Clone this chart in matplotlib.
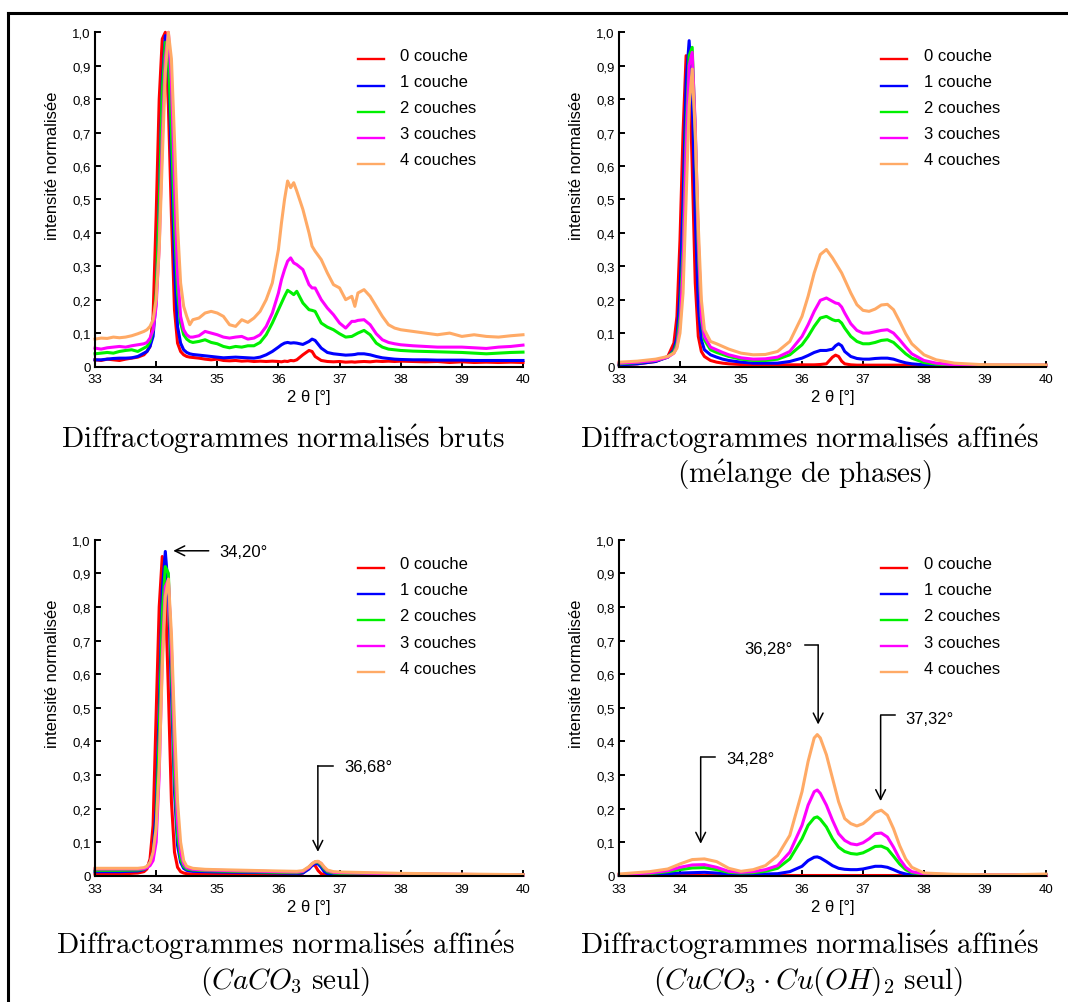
import matplotlib
matplotlib.use('Agg')
import matplotlib.pyplot as plt
from matplotlib.lines import Line2D
from matplotlib.legend_handler import HandlerLine2D

plt.rcParams['font.family'] = ['Liberation Sans', 'DejaVu Sans']
plt.rcParams['mathtext.fontset'] = 'cm'

# ---------------------------------------------------------------- data
layer_labels = ['0 couche', '1 couche', '2 couches', '3 couches', '4 couches']
layer_colors = ['#FF0000', '#0000FF', '#00F000', '#FF00FF', '#FFAA66']

x_ticks = [33, 34, 35, 36, 37, 38, 39, 40]
y_ticks = [0.0, 0.1, 0.2, 0.3, 0.4, 0.5, 0.6, 0.7, 0.8, 0.9, 1.0]
y_tick_labels = ['0', '0,1', '0,2', '0,3', '0,4', '0,5', '0,6', '0,7', '0,8', '0,9', '1,0']

# panel 1 : raw normalised diffractograms
raw_x = [33.0, 33.1, 33.2, 33.3, 33.4, 33.5, 33.6, 33.7, 33.8, 33.85,
         33.9, 33.95, 34.0, 34.05, 34.1, 34.15, 34.2, 34.25, 34.3, 34.35,
         34.4, 34.45, 34.5, 34.55, 34.6, 34.7, 34.8, 34.9, 35.0, 35.1,
         35.2, 35.3, 35.4, 35.5, 35.6, 35.7, 35.8, 35.9, 36.0, 36.05,
         36.1, 36.15, 36.2, 36.25, 36.3, 36.4, 36.5, 36.55, 36.6, 36.7,
         36.8, 36.9, 37.0, 37.1, 37.2, 37.25, 37.3, 37.4, 37.5, 37.6,
         37.7, 37.8, 37.9, 38.0, 38.2, 38.4, 38.6, 38.8, 39.0, 39.2,
         39.4, 39.6, 39.8, 40.0]
raw_0 = [.020, .018, .022, .020, .018, .022, .025, .028, .035, .045,
         .06, .15, .45, .80, .98, 1.0, .78, .45, .17, .07,
         .045, .035, .03, .028, .027, .025, .022, .020, .022, .018,
         .017, .018, .016, .017, .015, .016, .015, .016, .015, .014,
         .016, .015, .018, .017, .020, .035, .048, .045, .030, .018,
         .015, .014, .015, .013, .014, .013, .014, .015, .014, .016,
         .015, .016, .015, .016, .015, .014, .015, .012, .014, .012,
         .013, .012, .013, .012]
raw_1 = [.020, .020, .022, .024, .025, .025, .026, .030, .040, .045,
         .06, .09, .20, .50, .85, .99, .92, .62, .30, .12,
         .07, .05, .042, .038, .036, .034, .032, .030, .028, .026,
         .027, .028, .027, .026, .025, .028, .035, .045, .058, .065,
         .070, .072, .070, .071, .070, .066, .075, .082, .078, .055,
         .042, .038, .036, .034, .035, .036, .038, .038, .035, .030,
         .026, .024, .022, .021, .020, .020, .019, .019, .019, .018,
         .018, .018, .018, .018]
raw_2 = [.038, .040, .042, .040, .045, .048, .050, .045, .055, .060,
         .075, .11, .22, .48, .82, .97, .93, .70, .42, .22,
         .13, .095, .082, .075, .072, .075, .080, .072, .068, .060,
         .056, .060, .058, .062, .062, .072, .095, .13, .17, .19,
         .21, .228, .222, .215, .225, .19, .17, .168, .165, .13,
         .118, .11, .098, .088, .09, .095, .10, .108, .095, .07,
         .058, .052, .050, .048, .046, .045, .044, .043, .042, .040,
         .038, .040, .042, .043]
raw_3 = [.055, .052, .056, .058, .060, .058, .062, .065, .068, .072,
         .085, .11, .18, .36, .68, .92, 1.0, .85, .55, .28,
         .15, .11, .095, .088, .088, .092, .105, .10, .095, .088,
         .085, .088, .090, .082, .085, .095, .12, .16, .22, .26,
         .29, .315, .325, .31, .305, .29, .245, .235, .235, .20,
         .175, .155, .13, .115, .135, .135, .138, .14, .125, .098,
         .08, .072, .068, .065, .062, .060, .058, .058, .058, .056,
         .054, .058, .060, .064]
raw_4 = [.082, .085, .084, .088, .086, .088, .092, .098, .105, .11,
         .12, .14, .20, .35, .62, .88, 1.0, .92, .68, .42,
         .25, .18, .15, .125, .14, .145, .16, .165, .16, .15,
         .125, .12, .14, .132, .145, .165, .20, .25, .35, .43,
         .50, .555, .535, .55, .525, .47, .40, .36, .345, .32,
         .28, .245, .235, .20, .21, .18, .22, .23, .21, .18,
         .15, .125, .115, .11, .105, .10, .095, .10, .09, .095,
         .09, .088, .092, .095]

# panel 2 : refined, phase mixture
mix_x = [33.0, 33.3, 33.6, 33.8, 33.9, 33.95, 34.0, 34.05, 34.1, 34.15,
         34.2, 34.25, 34.3, 34.35, 34.4, 34.5, 34.6, 34.7, 34.8, 35.0,
         35.2, 35.4, 35.6, 35.8, 36.0, 36.1, 36.2, 36.3, 36.4, 36.5,
         36.55, 36.6, 36.65, 36.7, 36.8, 36.9, 37.0, 37.1, 37.2, 37.3,
         37.4, 37.5, 37.6, 37.7, 37.8, 38.0, 38.2, 38.5, 39.0, 39.5,
         40.0]
mix_0 = [.005, .008, .015, .03, .07, .15, .38, .70, .93, .92,
         .60, .25, .09, .045, .03, .018, .013, .010, .008, .006,
         .005, .005, .005, .005, .005, .005, .005, .006, .008, .028,
         .034, .030, .016, .008, .005, .004, .004, .004, .004, .004,
         .004, .004, .004, .004, .004, .004, .004, .004, .004, .004,
         .004]
mix_1 = [.005, .008, .015, .028, .05, .09, .22, .50, .85, .975,
         .80, .45, .18, .08, .05, .035, .028, .022, .018, .013,
         .010, .010, .010, .015, .025, .033, .042, .048, .048, .052,
         .062, .068, .062, .045, .030, .024, .022, .022, .024, .025,
         .025, .022, .016, .011, .008, .005, .004, .003, .003, .003,
         .003]
mix_2 = [.008, .012, .018, .028, .045, .07, .15, .35, .70, .93,
         .955, .70, .35, .14, .08, .05, .042, .036, .030, .022,
         .018, .018, .022, .035, .065, .09, .12, .145, .15, .14,
         .137, .138, .13, .115, .09, .075, .068, .068, .072, .078,
         .08, .072, .055, .038, .025, .012, .007, .004, .003, .003,
         .003]
mix_3 = [.010, .013, .018, .028, .04, .06, .12, .30, .65, .90,
         .94, .72, .38, .15, .09, .058, .050, .042, .035, .026,
         .022, .023, .028, .045, .09, .125, .165, .198, .205, .195,
         .19, .188, .178, .16, .128, .108, .10, .10, .104, .108,
         .11, .10, .08, .058, .038, .018, .010, .005, .003, .003,
         .003]
mix_4 = [.013, .016, .022, .030, .04, .055, .10, .22, .50, .78,
         .89, .70, .42, .20, .11, .075, .068, .060, .052, .040,
         .035, .036, .045, .075, .15, .21, .28, .335, .35, .325,
         .31, .295, .28, .26, .22, .185, .168, .165, .172, .184,
         .186, .17, .135, .098, .068, .035, .020, .010, .005, .004,
         .004]

# panel 3 : refined, CaCO3 only
ca_x = [33.0, 33.4, 33.7, 33.8, 33.85, 33.9, 33.95, 34.0, 34.05, 34.1,
        34.15, 34.2, 34.25, 34.3, 34.35, 34.4, 34.45, 34.5, 34.6, 34.8,
        35.0, 35.5, 36.0, 36.3, 36.4, 36.5, 36.55, 36.6, 36.65, 36.7,
        36.75, 36.8, 36.9, 37.0, 37.5, 38.0, 38.5, 39.0, 39.5, 40.0]
ca_0 = [.005, .005, .008, .012, .02, .05, .15, .48, .80, .95,
        .85, .55, .22, .07, .025, .012, .008, .006, .005, .004,
        .004, .003, .003, .003, .008, .025, .034, .030, .015, .006,
        .003, .003, .003, .003, .003, .003, .003, .003, .002, .002]
ca_1 = [.012, .012, .014, .018, .025, .04, .07, .20, .50, .85,
        .965, .85, .55, .25, .09, .04, .022, .016, .013, .012,
        .011, .010, .008, .007, .008, .020, .030, .036, .035, .025,
        .012, .006, .004, .004, .003, .003, .003, .002, .002, .002]
ca_2 = [.016, .016, .017, .020, .025, .035, .06, .15, .42, .78,
        .92, .90, .62, .30, .12, .05, .028, .020, .017, .015,
        .014, .012, .010, .009, .012, .025, .035, .040, .040, .032,
        .020, .012, .008, .007, .006, .005, .004, .003, .002, .002]
ca_3 = [.020, .020, .020, .021, .024, .03, .045, .10, .30, .65,
        .86, .88, .68, .38, .16, .07, .035, .024, .019, .017,
        .016, .014, .012, .011, .013, .025, .035, .041, .042, .036,
        .024, .015, .010, .009, .007, .006, .005, .004, .003, .002]
ca_4 = [.022, .022, .022, .024, .028, .04, .07, .14, .32, .62,
        .83, .883, .72, .45, .22, .10, .045, .028, .022, .019,
        .018, .016, .014, .013, .015, .027, .036, .042, .043, .037,
        .026, .017, .012, .011, .009, .007, .006, .005, .004, .003]

# panel 4 : refined, CuCO3.Cu(OH)2 only
cu_x = [33.0, 33.5, 33.8, 34.0, 34.2, 34.4, 34.6, 34.8, 35.0, 35.2,
        35.4, 35.6, 35.8, 36.0, 36.1, 36.2, 36.25, 36.3, 36.4, 36.5,
        36.6, 36.7, 36.8, 36.9, 37.0, 37.1, 37.2, 37.3, 37.4, 37.5,
        37.6, 37.7, 37.8, 38.0, 38.5, 39.0, 39.5, 40.0]
cu_0 = [.003, .003, .003, .003, .003, .003, .003, .003, .003, .003,
        .003, .003, .003, .003, .003, .003, .003, .003, .003, .003,
        .003, .003, .003, .003, .003, .003, .003, .003, .003, .003,
        .003, .003, .003, .003, .003, .003, .003, .003]
cu_1 = [.002, .004, .006, .008, .009, .010, .008, .005, .004, .004,
        .005, .006, .012, .028, .045, .055, .056, .053, .042, .030,
        .022, .019, .018, .018, .020, .024, .028, .028, .025, .018,
        .010, .005, .003, .002, .002, .002, .002, .002]
cu_2 = [.002, .006, .012, .018, .023, .024, .018, .010, .008, .009,
        .013, .022, .050, .11, .15, .172, .175, .168, .145, .11,
        .085, .072, .066, .064, .068, .077, .087, .088, .080, .058,
        .035, .018, .009, .004, .003, .003, .003, .003]
cu_3 = [.003, .008, .015, .025, .032, .033, .025, .013, .010, .012,
        .018, .030, .070, .15, .21, .25, .255, .245, .21, .165,
        .125, .105, .095, .092, .098, .11, .125, .127, .115, .085,
        .050, .025, .012, .005, .003, .003, .003, .003]
cu_4 = [.005, .012, .020, .035, .048, .050, .042, .022, .013, .018,
        .030, .060, .12, .25, .34, .41, .42, .41, .36, .29,
        .22, .17, .155, .148, .155, .17, .188, .195, .18, .14,
        .090, .050, .025, .008, .004, .003, .003, .005]


# ---------------------------------------------------------------- drawing
class LowLineHandler(HandlerLine2D):
    """Legend line sitting a little below the text centre, as in the original."""

    def create_artists(self, legend, orig_handle, xdescent, ydescent,
                       width, height, fontsize, trans):
        artists = super().create_artists(legend, orig_handle, xdescent, ydescent,
                                         width, height, fontsize, trans)
        for a in artists:
            a.set_ydata([y - 0.33 * fontsize for y in a.get_ydata()])
        return artists


def draw_panel(ax, x, series, legend_top):
    lines = []
    for y, color, label in zip(series, layer_colors, layer_labels):
        ln, = ax.plot(x, y, color=color, lw=2.2, label=label, clip_on=False,
                      solid_joinstyle='round')
        lines.append(ln)
    ax.set_xlim(33, 40)
    ax.set_ylim(0, 1.0)
    ax.set_xticks(x_ticks)
    ax.set_xticklabels([str(t) for t in x_ticks])
    ax.set_yticks(y_ticks)
    ax.set_yticklabels(y_tick_labels)
    ax.tick_params(direction='in', length=4, width=1.4, labelsize=9.5)
    ax.tick_params(axis='x', pad=5)
    ax.tick_params(axis='y', pad=3)
    for side in ['top', 'right']:
        ax.spines[side].set_visible(False)
    for side in ['left', 'bottom']:
        ax.spines[side].set_linewidth(1.5)
    ax.set_xlabel('2 θ [°]', fontsize=12, va='center')
    ax.xaxis.set_label_coords(0.5, -0.091)
    ax.set_ylabel('intensité normalisée', fontsize=12, va='center')
    ax.yaxis.set_label_coords(-0.10, 0.603)
    leg = ax.legend(handles=lines, loc='upper left', bbox_to_anchor=(0.614, legend_top),
                    frameon=False, fontsize=12, handlelength=1.55,
                    handletextpad=1.0, labelspacing=0.67, borderpad=0,
                    borderaxespad=0, handler_map={Line2D: LowLineHandler()})
    for h in leg.legend_handles:
        h.set_linewidth(1.7)


arrow_props = dict(arrowstyle='->,head_length=0.5,head_width=0.25',
                   lw=1.1, color='black', shrinkA=0, shrinkB=0, mutation_scale=14)


def bent_arrow(ax, x_end, x_corner, y_corner, y_head):
    ax.plot([x_end, x_corner], [y_corner, y_corner], color='black', lw=1.1,
            clip_on=False)
    ax.annotate('', xy=(x_corner, y_head), xytext=(x_corner, y_corner),
                arrowprops=arrow_props)


fig = plt.figure(figsize=(10.68, 10.03), dpi=100)
W, H = 1068.0, 1003.0


def add_axes_px(left, top, right, bottom):
    return fig.add_axes([left / W, 1 - bottom / H, (right - left) / W, (bottom - top) / H])


ax1 = add_axes_px(95, 33.3, 523, 367.5)
ax2 = add_axes_px(619, 33.3, 1046, 367.5)
ax3 = add_axes_px(95, 540.7, 523, 876.7)
ax4 = add_axes_px(619, 540.7, 1046, 876.7)

draw_panel(ax1, raw_x, [raw_0, raw_1, raw_2, raw_3, raw_4], 0.954)
draw_panel(ax2, mix_x, [mix_0, mix_1, mix_2, mix_3, mix_4], 0.954)
draw_panel(ax3, ca_x, [ca_0, ca_1, ca_2, ca_3, ca_4], 0.951)
draw_panel(ax4, cu_x, [cu_0, cu_1, cu_2, cu_3, cu_4], 0.951)

# peak annotations, CaCO3 panel
ax3.annotate('', xy=(34.28, 0.967), xytext=(34.86, 0.967), arrowprops=arrow_props)
ax3.text(35.04, 0.965, '34,20°', fontsize=12, va='center', ha='left')
bent_arrow(ax3, 36.89, 36.645, 0.327, 0.071)
ax3.text(37.07, 0.325, '36,68°', fontsize=12, va='center', ha='left')

# peak annotations, CuCO3.Cu(OH)2 panel
bent_arrow(ax4, 34.572, 34.339, 0.353, 0.095)
ax4.text(34.76, 0.349, '34,28°', fontsize=12, va='center', ha='left')
bent_arrow(ax4, 36.055, 36.265, 0.686, 0.45)
ax4.text(35.845, 0.677, '36,28°', fontsize=12, va='center', ha='right')
bent_arrow(ax4, 37.521, 37.289, 0.477, 0.222)
ax4.text(37.70, 0.468, '37,32°', fontsize=12, va='center', ha='left')

# captions (LaTeX style)
cap = dict(ha='center', va='center', fontsize=21)
fig.text(283 / W, 1 - 439 / H, r'$\mathrm{Diffractogrammes\ normalis\acute{e}s\ bruts}$', **cap)
fig.text(809 / W, 1 - 439 / H, r'$\mathrm{Diffractogrammes\ normalis\acute{e}s\ affin\acute{e}s}$', **cap)
fig.text(804 / W, 1 - 475 / H, r'$(\mathrm{m\acute{e}lange\ de\ phases})$', **cap)
fig.text(285 / W, 1 - 945 / H, r'$\mathrm{Diffractogrammes\ normalis\acute{e}s\ affin\acute{e}s}$', **cap)
fig.text(285 / W, 1 - 982 / H, r'$(CaCO_3\ \mathrm{seul})$', **cap)
fig.text(809 / W, 1 - 945 / H, r'$\mathrm{Diffractogrammes\ normalis\acute{e}s\ affin\acute{e}s}$', **cap)
fig.text(808 / W, 1 - 982 / H, r'$(CuCO_3 \cdot Cu(OH)_2\ \mathrm{seul})$', **cap)

# frame lines on top and left
fig.add_artist(Line2D([8 / W, 1.0], [1 - 14 / H, 1 - 14 / H], transform=fig.transFigure,
                      color='black', lw=2.2))
fig.add_artist(Line2D([8 / W, 8 / W], [1 - 14 / H, 0.0], transform=fig.transFigure,
                      color='black', lw=2.2))

fig.savefig('out.png', dpi=100)
plt.close(fig)
